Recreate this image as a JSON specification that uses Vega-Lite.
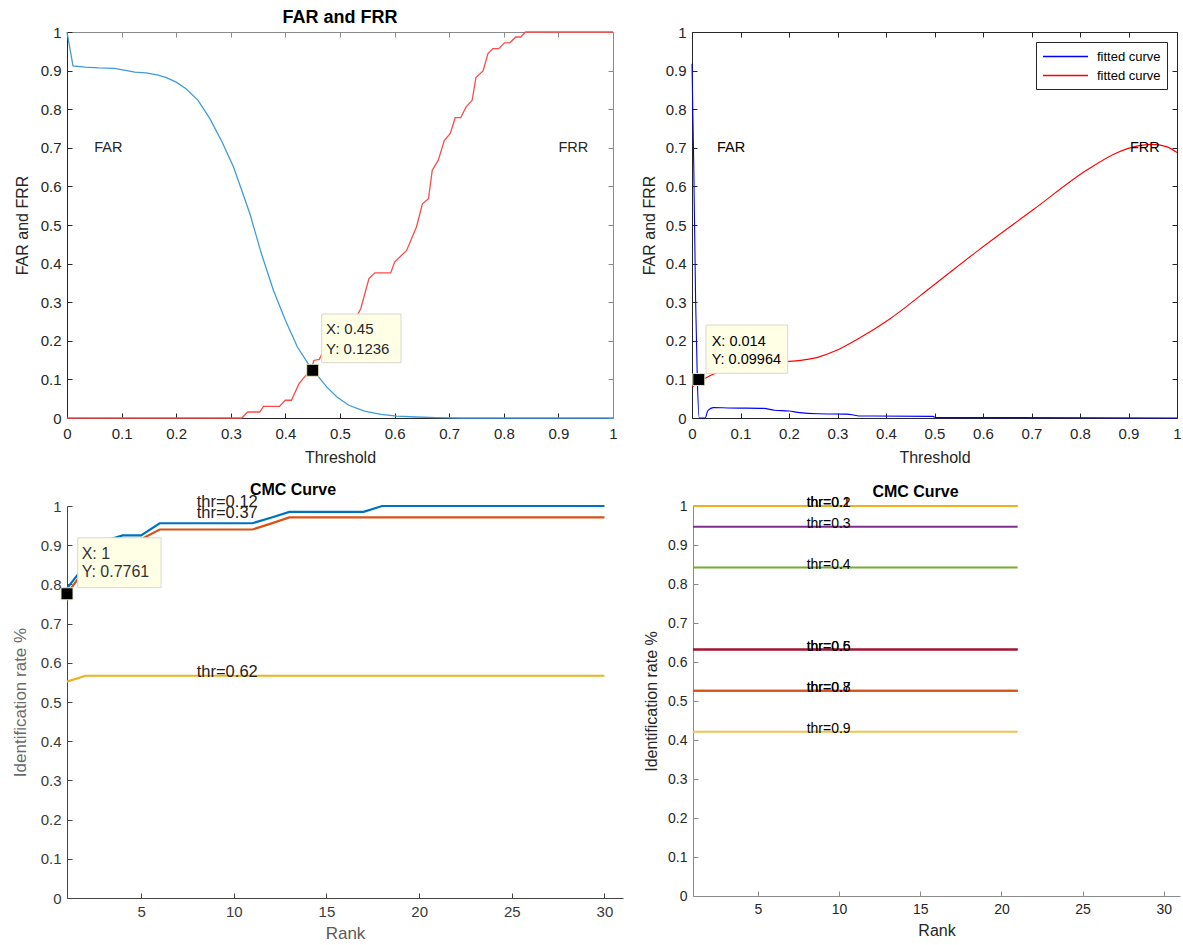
{
  "$schema": "https://vega.github.io/schema/vega-lite/v6.json",
  "background": "white",
  "padding": {"left": 11, "top": 9, "right": 0, "bottom": 0},
  "config": {
    "view": {"stroke": null},
    "font": "Liberation Sans",
    "axis": {
      "grid": false, "domainColor": "#262626", "tickColor": "#262626", "tickSize": -5,
      "labelPadding": 11, "labelColor": "#262626", "labelFont": "Liberation Sans", "labelFontSize": 15,
      "titleFont": "Liberation Sans", "titleFontSize": 16, "titleFontWeight": "normal", "titleColor": "#262626",
      "labelFlush": false, "labelOverlap": false, "domainWidth": 1, "tickWidth": 1
    },
    "axisX": {"labelPadding": 13},
    "title": {"font": "Liberation Sans", "fontWeight": "bold", "color": "#000000", "baseline": "bottom"}
  },
  "resolve": {"scale": {"color": "independent"}, "legend": {"color": "independent"}},
  "datasets": {
    "farfrr": [
      {"t": 0, "v": 1, "s": "FAR"}, {"t": 0.011, "v": 0.912, "s": "FAR"}, {"t": 0.033, "v": 0.909, "s": "FAR"},
      {"t": 0.058, "v": 0.907, "s": "FAR"}, {"t": 0.087, "v": 0.906, "s": "FAR"}, {"t": 0.102, "v": 0.902, "s": "FAR"},
      {"t": 0.124, "v": 0.896, "s": "FAR"}, {"t": 0.145, "v": 0.894, "s": "FAR"}, {"t": 0.167, "v": 0.888, "s": "FAR"},
      {"t": 0.182, "v": 0.882, "s": "FAR"}, {"t": 0.2, "v": 0.87, "s": "FAR"}, {"t": 0.218, "v": 0.853, "s": "FAR"},
      {"t": 0.24, "v": 0.823, "s": "FAR"}, {"t": 0.262, "v": 0.775, "s": "FAR"}, {"t": 0.284, "v": 0.715, "s": "FAR"},
      {"t": 0.305, "v": 0.65, "s": "FAR"}, {"t": 0.32, "v": 0.59, "s": "FAR"}, {"t": 0.335, "v": 0.529, "s": "FAR"},
      {"t": 0.356, "v": 0.426, "s": "FAR"}, {"t": 0.378, "v": 0.331, "s": "FAR"}, {"t": 0.4, "v": 0.253, "s": "FAR"},
      {"t": 0.422, "v": 0.184, "s": "FAR"}, {"t": 0.441, "v": 0.142, "s": "FAR"}, {"t": 0.45, "v": 0.1236, "s": "FAR"},
      {"t": 0.46, "v": 0.108, "s": "FAR"}, {"t": 0.476, "v": 0.08, "s": "FAR"}, {"t": 0.495, "v": 0.054, "s": "FAR"},
      {"t": 0.516, "v": 0.033, "s": "FAR"}, {"t": 0.545, "v": 0.018, "s": "FAR"}, {"t": 0.575, "v": 0.0095, "s": "FAR"},
      {"t": 0.604, "v": 0.005, "s": "FAR"}, {"t": 0.64, "v": 0.0026, "s": "FAR"}, {"t": 0.676, "v": 0.001, "s": "FAR"},
      {"t": 0.72, "v": 0, "s": "FAR"}, {"t": 1, "v": 0, "s": "FAR"},
      {"t": 0, "v": 0, "s": "FRR"}, {"t": 0.32, "v": 0, "s": "FRR"}, {"t": 0.331, "v": 0.0155, "s": "FRR"},
      {"t": 0.353, "v": 0.0155, "s": "FRR"}, {"t": 0.36, "v": 0.03, "s": "FRR"}, {"t": 0.389, "v": 0.03, "s": "FRR"},
      {"t": 0.4, "v": 0.046, "s": "FRR"}, {"t": 0.411, "v": 0.046, "s": "FRR"}, {"t": 0.425, "v": 0.089, "s": "FRR"},
      {"t": 0.436, "v": 0.108, "s": "FRR"}, {"t": 0.447, "v": 0.1236, "s": "FRR"}, {"t": 0.452, "v": 0.149, "s": "FRR"},
      {"t": 0.462, "v": 0.152, "s": "FRR"}, {"t": 0.47, "v": 0.175, "s": "FRR"}, {"t": 0.5, "v": 0.215, "s": "FRR"},
      {"t": 0.525, "v": 0.25, "s": "FRR"}, {"t": 0.538, "v": 0.283, "s": "FRR"}, {"t": 0.553, "v": 0.361, "s": "FRR"},
      {"t": 0.564, "v": 0.376, "s": "FRR"}, {"t": 0.593, "v": 0.376, "s": "FRR"}, {"t": 0.6, "v": 0.404, "s": "FRR"},
      {"t": 0.622, "v": 0.434, "s": "FRR"}, {"t": 0.64, "v": 0.495, "s": "FRR"}, {"t": 0.651, "v": 0.555, "s": "FRR"},
      {"t": 0.662, "v": 0.568, "s": "FRR"}, {"t": 0.669, "v": 0.642, "s": "FRR"}, {"t": 0.68, "v": 0.668, "s": "FRR"},
      {"t": 0.691, "v": 0.719, "s": "FRR"}, {"t": 0.702, "v": 0.737, "s": "FRR"}, {"t": 0.711, "v": 0.778, "s": "FRR"},
      {"t": 0.721, "v": 0.778, "s": "FRR"}, {"t": 0.731, "v": 0.806, "s": "FRR"}, {"t": 0.742, "v": 0.823, "s": "FRR"},
      {"t": 0.749, "v": 0.882, "s": "FRR"}, {"t": 0.762, "v": 0.899, "s": "FRR"}, {"t": 0.771, "v": 0.944, "s": "FRR"},
      {"t": 0.78, "v": 0.957, "s": "FRR"}, {"t": 0.791, "v": 0.957, "s": "FRR"}, {"t": 0.801, "v": 0.972, "s": "FRR"},
      {"t": 0.811, "v": 0.972, "s": "FRR"}, {"t": 0.822, "v": 0.987, "s": "FRR"}, {"t": 0.831, "v": 0.987, "s": "FRR"},
      {"t": 0.84, "v": 1, "s": "FRR"}, {"t": 1, "v": 1, "s": "FRR"}
    ],
    "fit": [
      {"t": 0, "v": 0.918, "s": "FAR fit"}, {"t": 0.0037, "v": 0.647, "s": "FAR fit"}, {"t": 0.0074, "v": 0.308, "s": "FAR fit"},
      {"t": 0.011, "v": 0.1, "s": "FAR fit"}, {"t": 0.015, "v": 0, "s": "FAR fit"}, {"t": 0.027, "v": 0, "s": "FAR fit"},
      {"t": 0.033, "v": 0.02, "s": "FAR fit"}, {"t": 0.044, "v": 0.027, "s": "FAR fit"}, {"t": 0.074, "v": 0.026, "s": "FAR fit"},
      {"t": 0.148, "v": 0.025, "s": "FAR fit"}, {"t": 0.17, "v": 0.02, "s": "FAR fit"}, {"t": 0.2, "v": 0.018, "s": "FAR fit"},
      {"t": 0.222, "v": 0.014, "s": "FAR fit"}, {"t": 0.259, "v": 0.011, "s": "FAR fit"}, {"t": 0.319, "v": 0.01, "s": "FAR fit"},
      {"t": 0.33, "v": 0.0086, "s": "FAR fit"}, {"t": 0.344, "v": 0.005, "s": "FAR fit"}, {"t": 0.37, "v": 0.005, "s": "FAR fit"},
      {"t": 0.496, "v": 0.0043, "s": "FAR fit"}, {"t": 0.504, "v": 0.001, "s": "FAR fit"}, {"t": 0.593, "v": 0.001, "s": "FAR fit"},
      {"t": 1, "v": 0, "s": "FAR fit"},
      {"t": 0, "v": 0.08, "s": "FRR fit"}, {"t": 0.03, "v": 0.105, "s": "FRR fit"}, {"t": 0.06, "v": 0.122, "s": "FRR fit"},
      {"t": 0.1, "v": 0.135, "s": "FRR fit"}, {"t": 0.15, "v": 0.142, "s": "FRR fit"}, {"t": 0.196, "v": 0.146, "s": "FRR fit"},
      {"t": 0.259, "v": 0.157, "s": "FRR fit"}, {"t": 0.296, "v": 0.174, "s": "FRR fit"}, {"t": 0.341, "v": 0.204, "s": "FRR fit"},
      {"t": 0.407, "v": 0.256, "s": "FRR fit"}, {"t": 0.496, "v": 0.342, "s": "FRR fit"}, {"t": 0.593, "v": 0.437, "s": "FRR fit"},
      {"t": 0.704, "v": 0.54, "s": "FRR fit"}, {"t": 0.815, "v": 0.643, "s": "FRR fit"}, {"t": 0.874, "v": 0.686, "s": "FRR fit"},
      {"t": 0.919, "v": 0.705, "s": "FRR fit"}, {"t": 0.948, "v": 0.709, "s": "FRR fit"}, {"t": 0.978, "v": 0.703, "s": "FRR fit"},
      {"t": 1, "v": 0.688, "s": "FRR fit"}
    ],
    "cmc1": [
      {"rank": 1, "rate": 0.79, "thr": "0.12"}, {"rank": 2, "rate": 0.85, "thr": "0.12"}, {"rank": 3, "rate": 0.91, "thr": "0.12"},
      {"rank": 4, "rate": 0.925, "thr": "0.12"}, {"rank": 5, "rate": 0.925, "thr": "0.12"}, {"rank": 6, "rate": 0.956, "thr": "0.12"},
      {"rank": 7, "rate": 0.956, "thr": "0.12"}, {"rank": 8, "rate": 0.956, "thr": "0.12"}, {"rank": 9, "rate": 0.956, "thr": "0.12"},
      {"rank": 10, "rate": 0.956, "thr": "0.12"}, {"rank": 11, "rate": 0.956, "thr": "0.12"}, {"rank": 12, "rate": 0.97, "thr": "0.12"},
      {"rank": 13, "rate": 0.985, "thr": "0.12"}, {"rank": 14, "rate": 0.985, "thr": "0.12"}, {"rank": 15, "rate": 0.985, "thr": "0.12"},
      {"rank": 16, "rate": 0.985, "thr": "0.12"}, {"rank": 17, "rate": 0.985, "thr": "0.12"}, {"rank": 18, "rate": 1, "thr": "0.12"},
      {"rank": 19, "rate": 1, "thr": "0.12"}, {"rank": 20, "rate": 1, "thr": "0.12"}, {"rank": 21, "rate": 1, "thr": "0.12"},
      {"rank": 22, "rate": 1, "thr": "0.12"}, {"rank": 23, "rate": 1, "thr": "0.12"}, {"rank": 24, "rate": 1, "thr": "0.12"},
      {"rank": 25, "rate": 1, "thr": "0.12"}, {"rank": 26, "rate": 1, "thr": "0.12"}, {"rank": 27, "rate": 1, "thr": "0.12"},
      {"rank": 28, "rate": 1, "thr": "0.12"}, {"rank": 29, "rate": 1, "thr": "0.12"}, {"rank": 30, "rate": 1, "thr": "0.12"},
      {"rank": 1, "rate": 0.7761, "thr": "0.37"}, {"rank": 2, "rate": 0.84, "thr": "0.37"}, {"rank": 3, "rate": 0.88, "thr": "0.37"},
      {"rank": 4, "rate": 0.9, "thr": "0.37"}, {"rank": 5, "rate": 0.915, "thr": "0.37"}, {"rank": 6, "rate": 0.94, "thr": "0.37"},
      {"rank": 7, "rate": 0.94, "thr": "0.37"}, {"rank": 8, "rate": 0.94, "thr": "0.37"}, {"rank": 9, "rate": 0.94, "thr": "0.37"},
      {"rank": 10, "rate": 0.94, "thr": "0.37"}, {"rank": 11, "rate": 0.94, "thr": "0.37"}, {"rank": 12, "rate": 0.955, "thr": "0.37"},
      {"rank": 13, "rate": 0.971, "thr": "0.37"}, {"rank": 14, "rate": 0.971, "thr": "0.37"}, {"rank": 15, "rate": 0.971, "thr": "0.37"},
      {"rank": 16, "rate": 0.971, "thr": "0.37"}, {"rank": 17, "rate": 0.971, "thr": "0.37"}, {"rank": 18, "rate": 0.971, "thr": "0.37"},
      {"rank": 19, "rate": 0.971, "thr": "0.37"}, {"rank": 20, "rate": 0.971, "thr": "0.37"}, {"rank": 21, "rate": 0.971, "thr": "0.37"},
      {"rank": 22, "rate": 0.971, "thr": "0.37"}, {"rank": 23, "rate": 0.971, "thr": "0.37"}, {"rank": 24, "rate": 0.971, "thr": "0.37"},
      {"rank": 25, "rate": 0.971, "thr": "0.37"}, {"rank": 26, "rate": 0.971, "thr": "0.37"}, {"rank": 27, "rate": 0.971, "thr": "0.37"},
      {"rank": 28, "rate": 0.971, "thr": "0.37"}, {"rank": 29, "rate": 0.971, "thr": "0.37"}, {"rank": 30, "rate": 0.971, "thr": "0.37"},
      {"rank": 1, "rate": 0.552, "thr": "0.62"}, {"rank": 2, "rate": 0.567, "thr": "0.62"}, {"rank": 3, "rate": 0.567, "thr": "0.62"},
      {"rank": 4, "rate": 0.567, "thr": "0.62"}, {"rank": 5, "rate": 0.567, "thr": "0.62"}, {"rank": 6, "rate": 0.567, "thr": "0.62"},
      {"rank": 7, "rate": 0.567, "thr": "0.62"}, {"rank": 8, "rate": 0.567, "thr": "0.62"}, {"rank": 9, "rate": 0.567, "thr": "0.62"},
      {"rank": 10, "rate": 0.567, "thr": "0.62"}, {"rank": 11, "rate": 0.567, "thr": "0.62"}, {"rank": 12, "rate": 0.567, "thr": "0.62"},
      {"rank": 13, "rate": 0.567, "thr": "0.62"}, {"rank": 14, "rate": 0.567, "thr": "0.62"}, {"rank": 15, "rate": 0.567, "thr": "0.62"},
      {"rank": 16, "rate": 0.567, "thr": "0.62"}, {"rank": 17, "rate": 0.567, "thr": "0.62"}, {"rank": 18, "rate": 0.567, "thr": "0.62"},
      {"rank": 19, "rate": 0.567, "thr": "0.62"}, {"rank": 20, "rate": 0.567, "thr": "0.62"}, {"rank": 21, "rate": 0.567, "thr": "0.62"},
      {"rank": 22, "rate": 0.567, "thr": "0.62"}, {"rank": 23, "rate": 0.567, "thr": "0.62"}, {"rank": 24, "rate": 0.567, "thr": "0.62"},
      {"rank": 25, "rate": 0.567, "thr": "0.62"}, {"rank": 26, "rate": 0.567, "thr": "0.62"}, {"rank": 27, "rate": 0.567, "thr": "0.62"},
      {"rank": 28, "rate": 0.567, "thr": "0.62"}, {"rank": 29, "rate": 0.567, "thr": "0.62"}, {"rank": 30, "rate": 0.567, "thr": "0.62"}
    ],
    "cmc2": [
      {"rank": 1, "rate": 1, "thr": "0.1"}, {"rank": 21, "rate": 1, "thr": "0.1"},
      {"rank": 1, "rate": 1, "thr": "0.2"}, {"rank": 21, "rate": 1, "thr": "0.2"},
      {"rank": 1, "rate": 0.947, "thr": "0.3"}, {"rank": 21, "rate": 0.947, "thr": "0.3"},
      {"rank": 1, "rate": 0.842, "thr": "0.4"}, {"rank": 21, "rate": 0.842, "thr": "0.4"},
      {"rank": 1, "rate": 0.632, "thr": "0.5"}, {"rank": 21, "rate": 0.632, "thr": "0.5"},
      {"rank": 1, "rate": 0.632, "thr": "0.6"}, {"rank": 21, "rate": 0.632, "thr": "0.6"},
      {"rank": 1, "rate": 0.526, "thr": "0.7"}, {"rank": 21, "rate": 0.526, "thr": "0.7"},
      {"rank": 1, "rate": 0.526, "thr": "0.8"}, {"rank": 21, "rate": 0.526, "thr": "0.8"},
      {"rank": 1, "rate": 0.421, "thr": "0.9"}, {"rank": 21, "rate": 0.421, "thr": "0.9"}
    ]
  },
  "spacing": 17,
  "vconcat": [
    {
      "spacing": 23,
      "resolve": {"scale": {"color": "independent"}, "legend": {"color": "independent"}},
      "hconcat": [
        {
          "width": 546, "height": 386,
          "title": {"text": "FAR and FRR", "fontSize": 18, "offset": -2},
          "resolve": {"axis": {"x": "independent", "y": "independent"}},
          "layer": [
            {
              "data": {"name": "farfrr"},
              "mark": {"type": "line", "strokeWidth": 1.3},
              "encoding": {
                "x": {"field": "t", "type": "quantitative", "scale": {"domain": [0, 1], "nice": false},
                      "axis": {"title": "Threshold", "values": [0, 0.1, 0.2, 0.3, 0.4, 0.5, 0.6, 0.7, 0.8, 0.9, 1], "format": "~g", "titlePadding": 8}},
                "y": {"field": "v", "type": "quantitative", "scale": {"domain": [0, 1], "nice": false},
                      "axis": {"title": "FAR and FRR", "values": [0, 0.1, 0.2, 0.3, 0.4, 0.5, 0.6, 0.7, 0.8, 0.9, 1], "format": "~g", "titlePadding": 10}},
                "color": {"field": "s", "type": "nominal", "scale": {"domain": ["FAR", "FRR"], "range": ["#3f9be0", "#ff4a4a"]}, "legend": null}
              }
            },
            {
              "data": {"values": [{"x1": 0.4665, "x2": 0.6117, "y1": 0.1433, "y2": 0.2694}]},
              "mark": {"type": "rect", "fill": "#ffffe6", "stroke": "#d8d8cc", "strokeWidth": 1},
              "encoding": {
                "x": {"field": "x1", "type": "quantitative", "axis": null},
                "x2": {"field": "x2"},
                "y": {"field": "y1", "type": "quantitative", "axis": null},
                "y2": {"field": "y2"}
              }
            },
            {
              "data": {"values": [{"t": 0.4744, "v": 0.2306, "label": "X: 0.45"}, {"t": 0.4744, "v": 0.1788, "label": "Y: 0.1236"}]},
              "mark": {"type": "text", "align": "left", "baseline": "middle", "fontSize": 15, "color": "#262626"},
              "encoding": {
                "x": {"field": "t", "type": "quantitative", "axis": null},
                "y": {"field": "v", "type": "quantitative", "axis": null},
                "text": {"field": "label"}
              }
            },
            {
              "data": {"values": [{"t": 0.05, "v": 0.7, "label": "FAR"}, {"t": 0.9, "v": 0.7, "label": "FRR"}]},
              "mark": {"type": "text", "align": "left", "baseline": "middle", "fontSize": 14.5, "color": "#262626"},
              "encoding": {
                "x": {"field": "t", "type": "quantitative", "axis": null},
                "y": {"field": "v", "type": "quantitative", "axis": null},
                "text": {"field": "label"}
              }
            },
            {
              "data": {"values": [{"t": 0.45, "v": 0.1236}]},
              "mark": {"type": "point", "shape": "square", "filled": true, "size": 144, "fill": "#000000", "stroke": "#e8e8c0", "strokeWidth": 1, "opacity": 1},
              "encoding": {
                "x": {"field": "t", "type": "quantitative",
                      "axis": {"orient": "top", "labels": false, "title": null, "values": [0, 0.1, 0.2, 0.3, 0.4, 0.5, 0.6, 0.7, 0.8, 0.9, 1], "domainColor": "#8a8a8a", "tickColor": "#8a8a8a"}},
                "y": {"field": "v", "type": "quantitative",
                      "axis": {"orient": "right", "labels": false, "title": null, "values": [0, 0.1, 0.2, 0.3, 0.4, 0.5, 0.6, 0.7, 0.8, 0.9, 1], "domainColor": "#8a8a8a", "tickColor": "#8a8a8a"}}
              }
            }
          ]
        },
        {
          "width": 485, "height": 386,
          "resolve": {"axis": {"x": "independent", "y": "independent"}},
          "layer": [
            {
              "data": {"name": "fit"},
              "mark": {"type": "line", "strokeWidth": 1.1, "interpolate": "monotone"},
              "encoding": {
                "x": {"field": "t", "type": "quantitative", "scale": {"domain": [0, 1], "nice": false},
                      "axis": {"title": "Threshold", "values": [0, 0.1, 0.2, 0.3, 0.4, 0.5, 0.6, 0.7, 0.8, 0.9, 1], "format": "~g", "titlePadding": 8}},
                "y": {"field": "v", "type": "quantitative", "scale": {"domain": [0, 1], "nice": false},
                      "axis": {"title": "FAR and FRR", "values": [0, 0.1, 0.2, 0.3, 0.4, 0.5, 0.6, 0.7, 0.8, 0.9, 1], "format": "~g", "titlePadding": 8}},
                "color": {"field": "s", "type": "nominal", "scale": {"domain": ["FAR fit", "FRR fit"], "range": ["#0000ff", "#ff0000"]},
                          "legend": {"orient": "top-right", "offset": 10, "title": null, "labelExpr": "'fitted curve'", "symbolType": "M-1,0H5", "symbolSize": 225, "symbolStrokeWidth": 1.3, "symbolFillColor": "transparent", "strokeColor": "#262626", "fillColor": "#ffffff", "padding": 6, "labelFontSize": 13, "labelColor": "#000000", "labelFont": "Liberation Sans", "labelOffset": 38, "rowPadding": 3}}
              }
            },
            {
              "data": {"values": [{"x1": 0.0289, "x2": 0.1973, "y1": 0.1158, "y2": 0.2409}]},
              "mark": {"type": "rect", "fill": "#ffffe6", "stroke": "#d8d8cc", "strokeWidth": 1},
              "encoding": {
                "x": {"field": "x1", "type": "quantitative", "axis": null},
                "x2": {"field": "x2"},
                "y": {"field": "y1", "type": "quantitative", "axis": null},
                "y2": {"field": "y2"}
              }
            },
            {
              "data": {"values": [{"t": 0.0406, "v": 0.1977, "label": "X: 0.014"}, {"t": 0.0406, "v": 0.1503, "label": "Y: 0.09964"}]},
              "mark": {"type": "text", "align": "left", "baseline": "middle", "fontSize": 14.5, "color": "#000000"},
              "encoding": {
                "x": {"field": "t", "type": "quantitative", "axis": null},
                "y": {"field": "v", "type": "quantitative", "axis": null},
                "text": {"field": "label"}
              }
            },
            {
              "data": {"values": [{"t": 0.0515, "v": 0.7, "label": "FAR"}, {"t": 0.903, "v": 0.7, "label": "FRR"}]},
              "mark": {"type": "text", "align": "left", "baseline": "middle", "fontSize": 14.5, "color": "#000000"},
              "encoding": {
                "x": {"field": "t", "type": "quantitative", "axis": null},
                "y": {"field": "v", "type": "quantitative", "axis": null},
                "text": {"field": "label"}
              }
            },
            {
              "data": {"values": [{"t": 0.014, "v": 0.09964}]},
              "mark": {"type": "point", "shape": "square", "filled": true, "size": 144, "fill": "#000000", "stroke": "#e8e8c0", "strokeWidth": 1, "opacity": 1},
              "encoding": {
                "x": {"field": "t", "type": "quantitative",
                      "axis": {"orient": "top", "labels": false, "title": null, "values": [0, 0.1, 0.2, 0.3, 0.4, 0.5, 0.6, 0.7, 0.8, 0.9, 1]}},
                "y": {"field": "v", "type": "quantitative",
                      "axis": {"orient": "right", "labels": false, "title": null, "values": [0, 0.1, 0.2, 0.3, 0.4, 0.5, 0.6, 0.7, 0.8, 0.9, 1]}}
              }
            }
          ]
        }
      ]
    },
    {
      "spacing": 20,
      "resolve": {"scale": {"color": "independent"}, "legend": {"color": "independent"}},
      "hconcat": [
        {
          "width": 556, "height": 392,
          "title": {"text": "CMC Curve", "fontSize": 16, "offset": -4, "dx": -52},
          "resolve": {"axis": {"x": "independent", "y": "independent"}},
          "layer": [
            {
              "data": {"name": "cmc1"},
              "mark": {"type": "line", "strokeWidth": 2.2},
              "encoding": {
                "x": {"field": "rank", "type": "quantitative", "scale": {"domain": [1, 31], "nice": false},
                      "axis": {"title": "Rank", "values": [5, 10, 15, 20, 25, 30], "labelFontSize": 15, "titleFontSize": 17, "titleColor": "#5a5a5a", "labelColor": "#3a3a3a", "domainColor": "#444444", "tickColor": "#444444", "titlePadding": 6, "labelPadding": 11}},
                "y": {"field": "rate", "type": "quantitative", "scale": {"domain": [0, 1], "nice": false},
                      "axis": {"title": "Identification rate %", "values": [0, 0.1, 0.2, 0.3, 0.4, 0.5, 0.6, 0.7, 0.8, 0.9, 1], "format": "~g", "labelFontSize": 15, "titleFontSize": 17, "titleColor": "#6a6a6a", "labelColor": "#3a3a3a", "domainColor": "#444444", "tickColor": "#444444", "titlePadding": 11}},
                "color": {"field": "thr", "type": "nominal", "scale": {"domain": ["0.12", "0.37", "0.62"], "range": ["#0072BD", "#D95319", "#EDB120"]}, "legend": null}
              }
            },
            {
              "data": {"values": [{"rank": 8, "rate": 1, "label": "thr=0.12"}, {"rank": 8, "rate": 0.971, "label": "thr=0.37"}, {"rank": 8, "rate": 0.567, "label": "thr=0.62"}]},
              "mark": {"type": "text", "align": "left", "baseline": "middle", "fontSize": 16.5, "dy": -4, "color": "#222222"},
              "encoding": {
                "x": {"field": "rank", "type": "quantitative", "axis": null},
                "y": {"field": "rate", "type": "quantitative", "axis": null},
                "text": {"field": "label"}
              }
            },
            {
              "data": {"values": [{"x1": 1.578, "x2": 6.076, "y1": 0.7916, "y2": 0.919}]},
              "mark": {"type": "rect", "fill": "#ffffe6", "stroke": "#d8d8cc", "strokeWidth": 1},
              "encoding": {
                "x": {"field": "x1", "type": "quantitative", "axis": null},
                "x2": {"field": "x2"},
                "y": {"field": "y1", "type": "quantitative", "axis": null},
                "y2": {"field": "y2"}
              }
            },
            {
              "data": {"values": [{"rank": 1.79, "rate": 0.878, "label": "X: 1"}, {"rank": 1.79, "rate": 0.832, "label": "Y: 0.7761"}]},
              "mark": {"type": "text", "align": "left", "baseline": "middle", "fontSize": 16, "color": "#333333"},
              "encoding": {
                "x": {"field": "rank", "type": "quantitative", "axis": null},
                "y": {"field": "rate", "type": "quantitative", "axis": null},
                "text": {"field": "label"}
              }
            },
            {
              "data": {"values": [{"rank": 1, "rate": 0.7761}]},
              "mark": {"type": "point", "shape": "square", "filled": true, "size": 144, "fill": "#000000", "stroke": "#e8e8c0", "strokeWidth": 1, "opacity": 1},
              "encoding": {
                "x": {"field": "rank", "type": "quantitative", "axis": null},
                "y": {"field": "rate", "type": "quantitative", "axis": null}
              }
            }
          ]
        },
        {
          "width": 487, "height": 390,
          "title": {"text": "CMC Curve", "fontSize": 16, "offset": -4, "dx": -21},
          "resolve": {"axis": {"x": "independent", "y": "independent"}},
          "layer": [
            {
              "data": {"name": "cmc2"},
              "mark": {"type": "line", "strokeWidth": 2},
              "encoding": {
                "x": {"field": "rank", "type": "quantitative", "scale": {"domain": [1, 31], "nice": false},
                      "axis": {"title": "Rank", "values": [5, 10, 15, 20, 25, 30], "labelFontSize": 14, "domainColor": "#8a8a8a", "tickColor": "#8a8a8a", "titlePadding": 6, "labelPadding": 11}},
                "y": {"field": "rate", "type": "quantitative", "scale": {"domain": [0, 1], "nice": false},
                      "axis": {"title": "Identification rate %", "values": [0, 0.1, 0.2, 0.3, 0.4, 0.5, 0.6, 0.7, 0.8, 0.9, 1], "format": "~g", "labelFontSize": 14, "domainColor": "#8a8a8a", "tickColor": "#8a8a8a", "titlePadding": 8}},
                "color": {"field": "thr", "type": "nominal",
                          "scale": {"domain": ["0.1", "0.2", "0.3", "0.4", "0.5", "0.6", "0.7", "0.8", "0.9"],
                                    "range": ["#EDB120", "#EDB120", "#7E2F8E", "#77AC30", "#A2142F", "#A2142F", "#D95319", "#D95319", "#F2C24A"]},
                          "legend": null}
              }
            },
            {
              "data": {"values": [
                {"rank": 8, "rate": 1, "label": "thr=0.1"}, {"rank": 8, "rate": 1, "label": "thr=0.2"},
                {"rank": 8, "rate": 0.947, "label": "thr=0.3"}, {"rank": 8, "rate": 0.842, "label": "thr=0.4"},
                {"rank": 8, "rate": 0.632, "label": "thr=0.5"}, {"rank": 8, "rate": 0.632, "label": "thr=0.6"},
                {"rank": 8, "rate": 0.526, "label": "thr=0.7"}, {"rank": 8, "rate": 0.526, "label": "thr=0.8"},
                {"rank": 8, "rate": 0.421, "label": "thr=0.9"}
              ]},
              "mark": {"type": "text", "align": "left", "baseline": "middle", "fontSize": 14, "dy": -3, "color": "#000000"},
              "encoding": {
                "x": {"field": "rank", "type": "quantitative", "axis": null},
                "y": {"field": "rate", "type": "quantitative", "axis": null},
                "text": {"field": "label"}
              }
            }
          ]
        }
      ]
    }
  ]
}
